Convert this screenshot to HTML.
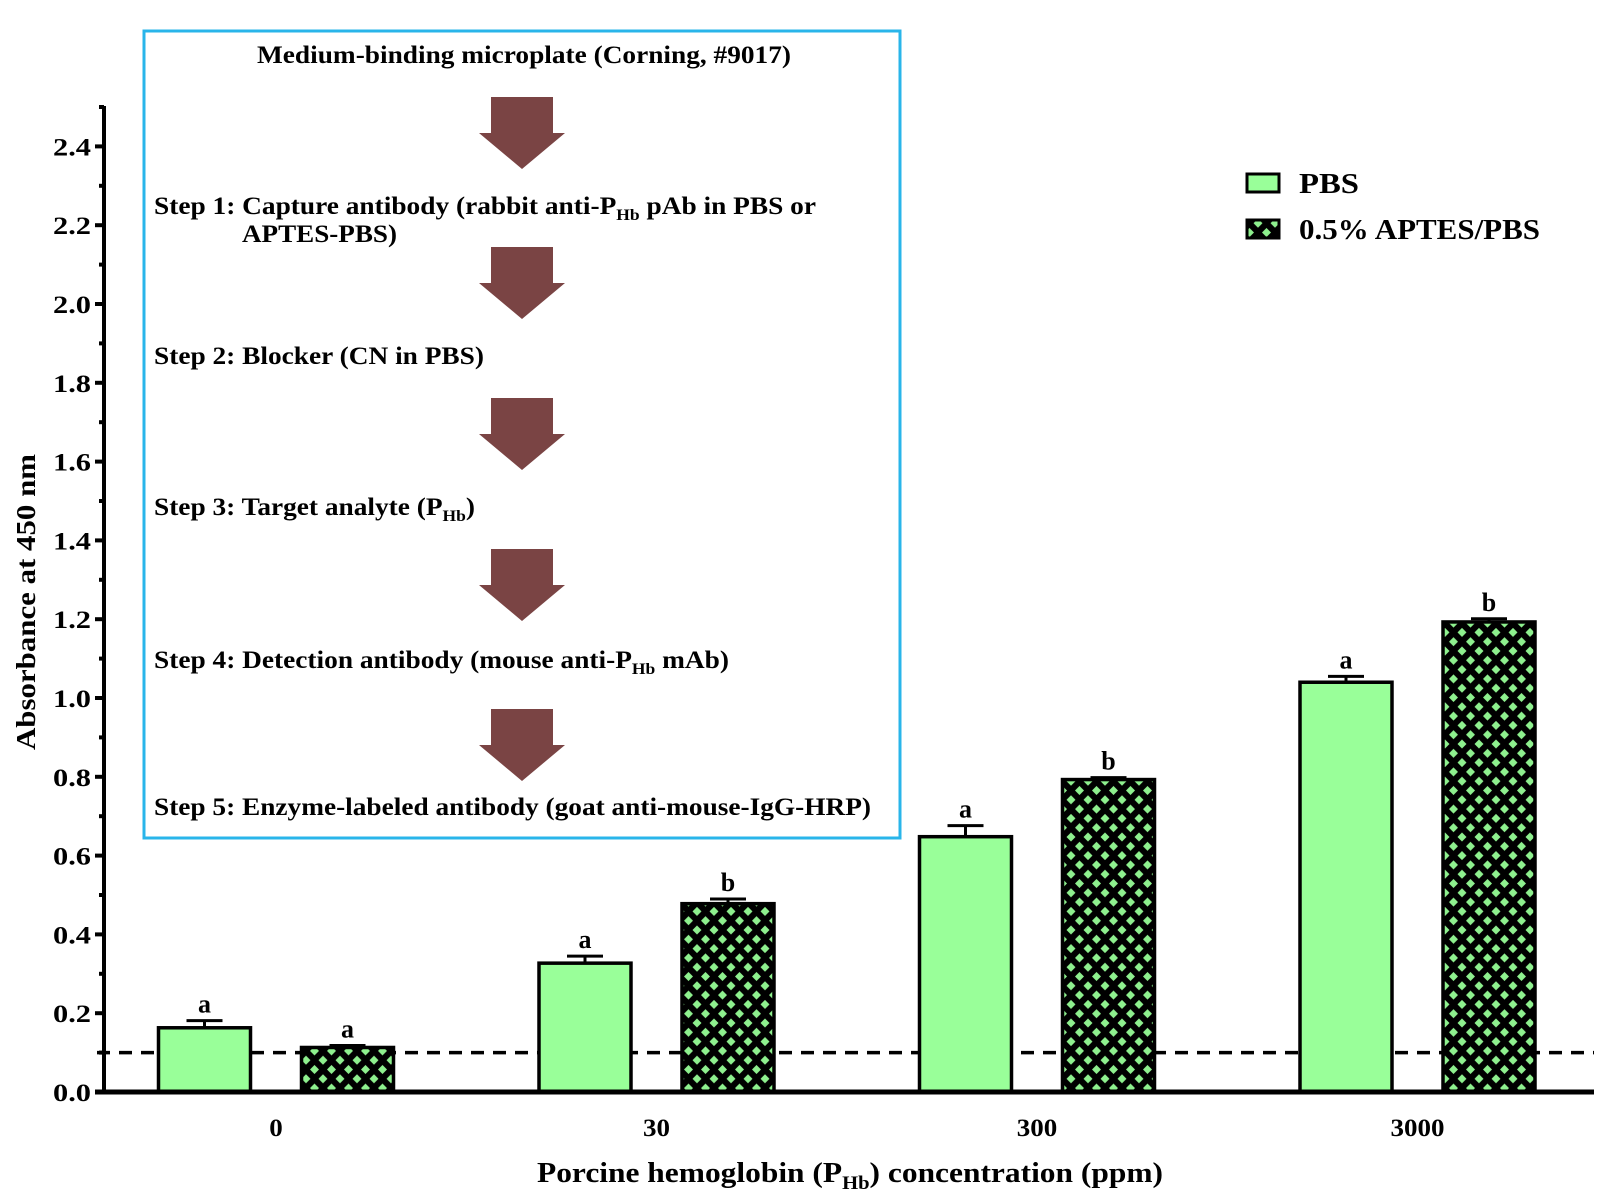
<!DOCTYPE html>
<html><head><meta charset="utf-8"><style>
html,body{margin:0;padding:0;background:#fff;}
svg{display:block;font-family:"Liberation Serif",serif;font-weight:bold;}
</style></head><body>
<svg id="chart" width="1611" height="1202" viewBox="0 0 1611 1202">
<defs>
<pattern id="hatch" patternUnits="userSpaceOnUse" width="17" height="18.6">
<rect width="17" height="18.6" fill="#000"/>
<polygon points="8.5,4.8 13,9.3 8.5,13.8 4,9.3" fill="#8ef08e"/>
<polygon points="0,-4.5 4.5,0 0,4.5 -4.5,0" fill="#8ef08e"/>
<polygon points="17,-4.5 21.5,0 17,4.5 12.5,0" fill="#8ef08e"/>
<polygon points="0,14.1 4.5,18.6 0,23.1 -4.5,18.6" fill="#8ef08e"/>
<polygon points="17,14.1 21.5,18.6 17,23.1 12.5,18.6" fill="#8ef08e"/>
</pattern>
</defs>
<g id="plot"></g>
<g id="inset">
<rect x="144" y="31" width="756" height="807" fill="#fff" stroke="#29b5ea" stroke-width="3"/>
<text x="257" y="63" font-size="25" textLength="534" lengthAdjust="spacingAndGlyphs">Medium-binding microplate (Corning, #9017)</text>
<text x="154" y="214" font-size="25" textLength="662" lengthAdjust="spacingAndGlyphs">Step 1: Capture antibody (rabbit anti-P<tspan font-size="16" dy="6">Hb</tspan><tspan dy="-6"> pAb in PBS or</tspan></text>
<text x="242" y="242" font-size="25" textLength="155" lengthAdjust="spacingAndGlyphs">APTES-PBS)</text>
<text x="154" y="364" font-size="25" textLength="330" lengthAdjust="spacingAndGlyphs">Step 2: Blocker (CN in PBS)</text>
<text x="154" y="515" font-size="25" textLength="321" lengthAdjust="spacingAndGlyphs">Step 3: Target analyte (P<tspan font-size="16" dy="6">Hb</tspan><tspan dy="-6">)</tspan></text>
<text x="154" y="668" font-size="25" textLength="575" lengthAdjust="spacingAndGlyphs">Step 4: Detection antibody (mouse anti-P<tspan font-size="16" dy="6">Hb</tspan><tspan dy="-6"> mAb)</tspan></text>
<text x="154" y="815" font-size="25" textLength="717" lengthAdjust="spacingAndGlyphs">Step 5: Enzyme-labeled antibody (goat anti-mouse-IgG-HRP)</text>
</g>
<g id="arrows"></g>
<g>
<rect x="1247" y="174" width="32" height="18" fill="#99ff99" stroke="#000" stroke-width="3"/>
<text x="1299" y="193" font-size="29" textLength="60" lengthAdjust="spacingAndGlyphs">PBS</text>
<rect x="1247" y="220" width="32" height="18" fill="url(#hatch)" stroke="#000" stroke-width="3"/>
<text x="1299" y="239" font-size="29" textLength="241" lengthAdjust="spacingAndGlyphs">0.5% APTES/PBS</text>
</g>
<text transform="translate(35,602) rotate(-90)" font-size="27" text-anchor="middle" textLength="296" lengthAdjust="spacingAndGlyphs">Absorbance at 450 nm</text>
<text x="537" y="1182" font-size="29" textLength="626" lengthAdjust="spacingAndGlyphs">Porcine hemoglobin (P<tspan font-size="19" dy="7">Hb</tspan><tspan dy="-7">) concentration (ppm)</tspan></text>
</svg>
<script>
const categories = ["0","30","300","3000"];
const pbsValues = [0.163, 0.327, 0.648, 1.040];
const pbsErrors = [0.018, 0.018, 0.028, 0.015];
const aptesValues = [0.113, 0.478, 0.793, 1.193];
const aptesErrors = [0.005, 0.012, 0.005, 0.008];
const pbsLetters = ["a","a","a","a"];
const aptesLetters = ["a","b","b","b"];
const yTicks = [0.0,0.2,0.4,0.6,0.8,1.0,1.2,1.4,1.6,1.8,2.0,2.2,2.4];
const cutoff = 0.1;

const NS = "http://www.w3.org/2000/svg";
const plot = document.getElementById('plot');
const y = v => 1092 - v * 394;
const groupCenter = i => 276 + i * 380.5;
function mk(tag, attrs, parent) {
  const e = document.createElementNS(NS, tag);
  for (const k in attrs) e.setAttribute(k, attrs[k]);
  (parent || plot).appendChild(e);
  return e;
}
let dl = mk('line', {x1: 97, x2: 1594, y1: y(cutoff), y2: y(cutoff), stroke: '#000', 'stroke-width': 3.5, 'stroke-dasharray': '13,9'});



const bw = 92;
function bar(val, err, letter, cx, fill, name) {
  const top = y(val);
  const r = mk('rect', {x: cx - bw/2, y: top, width: bw, height: y(0) - top, fill: fill, stroke: '#000', 'stroke-width': 3.5});
  
  
  const et = y(val + err);
  const e1 = mk('line', {x1: cx, x2: cx, y1: top, y2: et, stroke: '#000', 'stroke-width': 3});
  
  
  const e2 = mk('line', {x1: cx - 18, x2: cx + 18, y1: et, y2: et, stroke: '#000', 'stroke-width': 3});
  
  
  const t = mk('text', {x: cx, y: et - 8, 'font-size': 26, 'text-anchor': 'middle'});
  t.textContent = letter;
  
  
}
categories.forEach((c, i) => {
  const gc = groupCenter(i);
  bar(pbsValues[i], pbsErrors[i], pbsLetters[i], gc - 71.5, '#99ff99', 'bar-pbs-' + c);
  bar(aptesValues[i], aptesErrors[i], aptesLetters[i], gc + 71.5, 'url(#hatch)', 'bar-aptes-' + c);
  const t = mk('text', {x: gc, y: 1136, 'font-size': 25, 'text-anchor': 'middle', textLength: 13.5 * c.length, lengthAdjust: 'spacingAndGlyphs'});
  t.textContent = c;
  
  
});
let ya = mk('line', {x1: 104, x2: 104, y1: 106, y2: 1094, stroke: '#000', 'stroke-width': 4});


let xa = mk('line', {x1: 95, x2: 1594, y1: y(0), y2: y(0), stroke: '#000', 'stroke-width': 5});


yTicks.forEach(v => {
  const tk = mk('line', {x1: 95, x2: 104, y1: y(v), y2: y(v), stroke: '#000', 'stroke-width': 4});
  
  
  const mn = mk('line', {x1: 99, x2: 104, y1: y(v + 0.1), y2: y(v + 0.1), stroke: '#000', 'stroke-width': 4});
  
  
  const t = mk('text', {x: 91, y: y(v) + 9, 'font-size': 25, 'text-anchor': 'end', textLength: 38, lengthAdjust: 'spacingAndGlyphs'});
  t.textContent = v.toFixed(1);
  
  
});
const arrowTops = [97, 247, 398, 549, 709];
const ag = document.getElementById('arrows');
arrowTops.forEach((t, i) => {
  const cx = 522;
  const p = mk('polygon', {points: `${cx-31},${t} ${cx+31},${t} ${cx+31},${t+36} ${cx+43},${t+36} ${cx},${t+72} ${cx-43},${t+36} ${cx-31},${t+36}`, fill: '#7a4444'}, ag);
  
  
});
</script>
</body></html>
